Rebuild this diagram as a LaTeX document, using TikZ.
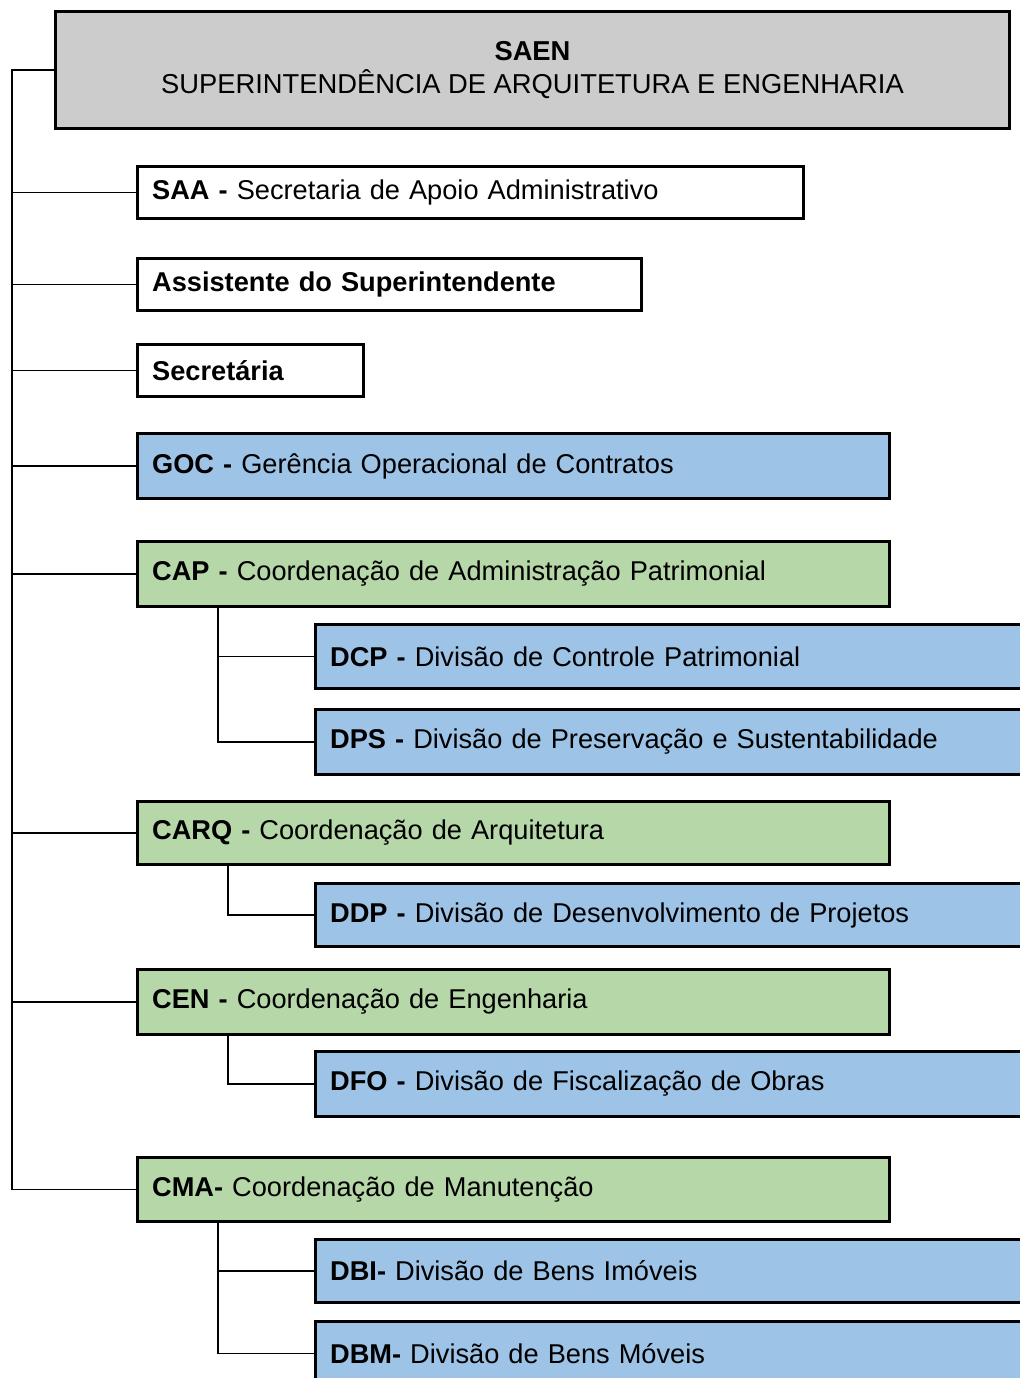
\documentclass[tikz,border=0pt]{standalone}
\usepackage{fontspec}
\setmainfont{Liberation Sans}
\definecolor{boxgray}{HTML}{CCCCCC}
\definecolor{boxblue}{HTML}{9DC3E6}
\definecolor{boxgreen}{HTML}{B6D7A8}
\tikzset{
  unitbox/.style={draw, line width=2.25pt, anchor=north west, inner xsep=11pt, inner ysep=0pt, align=left, font=\fontsize{20.4}{24.75}\selectfont},
  link/.style={line width=1.3pt},
}
\begin{document}
\begin{tikzpicture}[x=0.75pt,y=0.75pt,yscale=-1,xscale=1]
\useasboundingbox (0,0) rectangle (1020,1378);
\clip (0,0) rectangle (1020,1378);

%Shape: Rectangle [SAEN]
\node [unitbox, fill=boxgray, minimum width=715.5pt, minimum height=87.75pt, align=center, font=\fontsize{20.5}{24.75}\selectfont] (saen) at (54,10) {\textbf{SAEN}\\SUPERINTENDÊNCIA DE ARQUITETURA E ENGENHARIA};
%Shape: Rectangle [SAA]
\node [unitbox, fill=white, minimum width=499.5pt, text width=477.5pt, minimum height=39pt] (saa) at (136,165) {\textbf{SAA -} Secretaria de Apoio Administrativo};
%Shape: Rectangle [assistente]
\node [unitbox, fill=white, minimum width=378pt, text width=356pt, minimum height=39pt] (assist) at (136,257) {\textbf{Assistente do Superintendente}};
%Shape: Rectangle [secretaria]
\node [unitbox, fill=white, minimum width=169.5pt, text width=147.5pt, minimum height=39pt] (secr) at (136,343) {\textbf{Secretária}};
%Shape: Rectangle [GOC]
\node [unitbox, fill=boxblue, minimum width=564pt, text width=542pt, minimum height=48.75pt] (goc) at (136,432) {\textbf{GOC -} Gerência Operacional de Contratos};
%Shape: Rectangle [CAP]
\node [unitbox, fill=boxgreen, minimum width=564pt, text width=542pt, minimum height=48.75pt] (cap) at (136,540) {\textbf{CAP -} Coordenação de Administração Patrimonial};
%Shape: Rectangle [DCP]
\node [unitbox, fill=boxblue, minimum width=540pt, text width=518pt, minimum height=48pt] (dcp) at (314,623) {\textbf{DCP -} Divisão de Controle Patrimonial};
%Shape: Rectangle [DPS]
\node [unitbox, fill=boxblue, minimum width=540pt, text width=518pt, minimum height=48.75pt] (dps) at (314,708) {\textbf{DPS -} Divisão de Preservação e Sustentabilidade};
%Shape: Rectangle [CARQ]
\node [unitbox, fill=boxgreen, minimum width=564pt, text width=542pt, minimum height=47.25pt] (carq) at (136,800) {\textbf{CARQ -} Coordenação de Arquitetura};
%Shape: Rectangle [DDP]
\node [unitbox, fill=boxblue, minimum width=540pt, text width=518pt, minimum height=47.25pt] (ddp) at (314,882) {\textbf{DDP -} Divisão de Desenvolvimento de Projetos};
%Shape: Rectangle [CEN]
\node [unitbox, fill=boxgreen, minimum width=564pt, text width=542pt, minimum height=48.75pt] (cen) at (136,968) {\textbf{CEN -} Coordenação de Engenharia};
%Shape: Rectangle [DFO]
\node [unitbox, fill=boxblue, minimum width=540pt, text width=518pt, minimum height=48.75pt] (dfo) at (314,1050) {\textbf{DFO -} Divisão de Fiscalização de Obras};
%Shape: Rectangle [CMA]
\node [unitbox, fill=boxgreen, minimum width=564pt, text width=542pt, minimum height=48pt] (cma) at (136,1156) {\textbf{CMA-} Coordenação de Manutenção};
%Shape: Rectangle [DBI]
\node [unitbox, fill=boxblue, minimum width=540pt, text width=518pt, minimum height=47.25pt] (dbi) at (314,1238) {\textbf{DBI-} Divisão de Bens Imóveis};
%Shape: Rectangle [DBM]
\node [unitbox, fill=boxblue, minimum width=540pt, text width=518pt, minimum height=48pt] (dbm) at (314,1320) {\textbf{DBM-} Divisão de Bens Móveis};

%Straight Lines [main spine]
\coordinate (spine) at (12,0);
\draw [link] (saen.west) -- (saen.west -| spine) -- (cma.west -| spine) -- (cma.west);
\draw [link] (saa.west -| spine) -- (saa.west);
\draw [link] (assist.west -| spine) -- (assist.west);
\draw [link] (secr.west -| spine) -- (secr.west);
\draw [link] (goc.west -| spine) -- (goc.west);
\draw [link] (cap.west -| spine) -- (cap.west);
\draw [link] (carq.west -| spine) -- (carq.west);
\draw [link] (cen.west -| spine) -- (cen.west);

%Straight Lines [CAP]
\coordinate (capbus) at (218,0);
\draw [link] (cap.south -| capbus) |- (dps.west);
\draw [link] (dcp.west -| capbus) -- (dcp.west);
%Straight Lines [CARQ]
\coordinate (carqbus) at (228,0);
\draw [link] (carq.south -| carqbus) |- (ddp.west);
%Straight Lines [CEN]
\coordinate (cenbus) at (228,0);
\draw [link] (cen.south -| cenbus) |- (dfo.west);
%Straight Lines [CMA]
\coordinate (cmabus) at (218,0);
\draw [link] (cma.south -| cmabus) |- (dbm.west);
\draw [link] (dbi.west -| cmabus) -- (dbi.west);

\end{tikzpicture}
\end{document}
